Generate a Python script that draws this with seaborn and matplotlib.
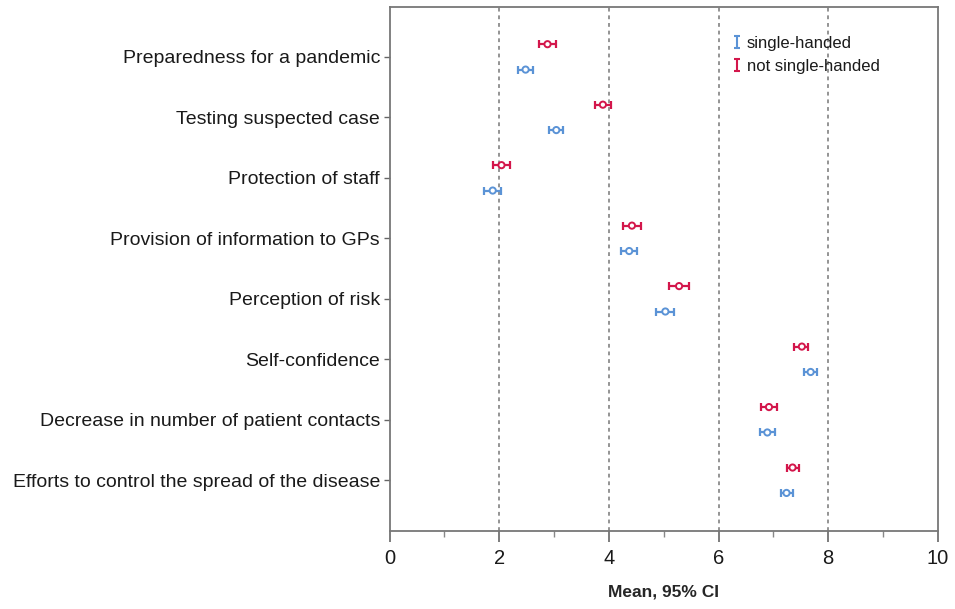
"""Mean score with 95% CI, single-handed vs not single-handed practices."""

import matplotlib

matplotlib.use("Agg")

import matplotlib.pyplot as plt
import pandas as pd
import seaborn as sns
from matplotlib.lines import Line2D
from matplotlib.path import Path
from matplotlib.ticker import MultipleLocator

items = [
    "Preparedness for a pandemic",
    "Testing suspected case",
    "Protection of staff",
    "Provision of information to GPs",
    "Perception of risk",
    "Self-confidence",
    "Decrease in number of patient contacts",
    "Efforts to control the spread of the disease",
]

single_mean = [2.48, 3.04, 1.88, 4.37, 5.03, 7.68, 6.89, 7.24]
single_low = [2.34, 2.91, 1.73, 4.22, 4.86, 7.56, 6.76, 7.14]
single_high = [2.62, 3.17, 2.04, 4.51, 5.19, 7.80, 7.03, 7.35]

other_mean = [2.88, 3.89, 2.04, 4.42, 5.28, 7.52, 6.92, 7.35]
other_low = [2.73, 3.75, 1.88, 4.26, 5.09, 7.38, 6.77, 7.24]
other_high = [3.04, 4.04, 2.20, 4.58, 5.46, 7.64, 7.07, 7.47]

group_names = ["single-handed", "not single-handed"]
BLUE = "#5b93d6"
RED = "#d3164b"

sns.set_theme(style="white")
plt.rcParams["font.family"] = ["Liberation Sans", "DejaVu Sans"]
plt.rcParams["text.color"] = "#1a1a1a"
plt.rcParams["xtick.labelcolor"] = "#1a1a1a"
plt.rcParams["ytick.labelcolor"] = "#1a1a1a"

rows = []
for name, means, lows, highs, shift in [
    (group_names[0], single_mean, single_low, single_high, 0.21),
    (group_names[1], other_mean, other_low, other_high, -0.21),
]:
    for i, item in enumerate(items):
        rows.append(
            {
                "item": item,
                "group": name,
                "pos": i + shift,
                "mean": means[i],
                "low": lows[i],
                "high": highs[i],
            }
        )
df = pd.DataFrame(rows)
palette = {group_names[0]: BLUE, group_names[1]: RED}

fig = plt.figure(figsize=(9.55, 6.09), dpi=100)
ax = fig.add_axes([0.408, 0.128, 0.574, 0.861])

for name, blk in df.groupby("group"):
    ax.errorbar(
        blk["mean"],
        blk["pos"],
        xerr=[blk["mean"] - blk["low"], blk["high"] - blk["mean"]],
        fmt="none",
        ecolor=palette[name],
        elinewidth=1.6,
        capsize=2.8,
        capthick=1.6,
        zorder=3,
    )
sns.scatterplot(
    data=df,
    x="mean",
    y="pos",
    hue="group",
    palette=palette,
    marker="o",
    s=20,
    facecolor="white",
    linewidth=1.4,
    legend=False,
    ax=ax,
    zorder=4,
)
# open circles in group colour
for coll in ax.collections:
    ec = coll.get_facecolors()
    if len(ec):
        coll.set_edgecolors(ec)
        coll.set_facecolors("white")

ax.set_xlim(0, 10)
ax.set_ylim(7.84, -0.83)
ax.set_yticks(range(len(items)), items, fontsize=14)
ax.xaxis.set_major_locator(MultipleLocator(2))
ax.xaxis.set_minor_locator(MultipleLocator(1))
ax.tick_params(axis="x", which="major", labelsize=14.5, length=8, width=1.2,
               color="#666666", direction="out", bottom=True, pad=5)
ax.tick_params(axis="x", which="minor", length=4, width=1.0,
               color="#888888", direction="out", bottom=True)
ax.tick_params(axis="y", length=4, width=1.0, color="#666666",
               direction="out", left=True, pad=3)

for x in [2, 4, 6, 8]:
    ax.axvline(x, color="#777777", linestyle=(0, (2.5, 2.5)), linewidth=1.1, zorder=1)

for side in ["left", "right", "top", "bottom"]:
    ax.spines[side].set_color("#777777")
    ax.spines[side].set_linewidth(1.3)

ax.set_xlabel("Mean, 95% CI", fontsize=12.5, fontweight="bold", labelpad=12)
ax.set_ylabel("")

ibeam = Path(
    [(-0.5, -1), (0.5, -1), (0, -1), (0, 1), (-0.5, 1), (0.5, 1)],
    [Path.MOVETO, Path.LINETO, Path.MOVETO, Path.LINETO, Path.MOVETO, Path.LINETO],
)
handles = [
    Line2D([], [], linestyle="none", marker=ibeam, markersize=9,
           markeredgewidth=1.5, color=palette[g], markerfacecolor="none")
    for g in group_names
]
ax.legend(
    handles,
    group_names,
    loc="upper left",
    bbox_to_anchor=(0.612, 0.957),
    frameon=False,
    fontsize=12,
    handlelength=0.6,
    handletextpad=0.3,
    labelspacing=0.5,
    borderaxespad=0,
)

fig.savefig("out.png", dpi=100)
plt.close(fig)
